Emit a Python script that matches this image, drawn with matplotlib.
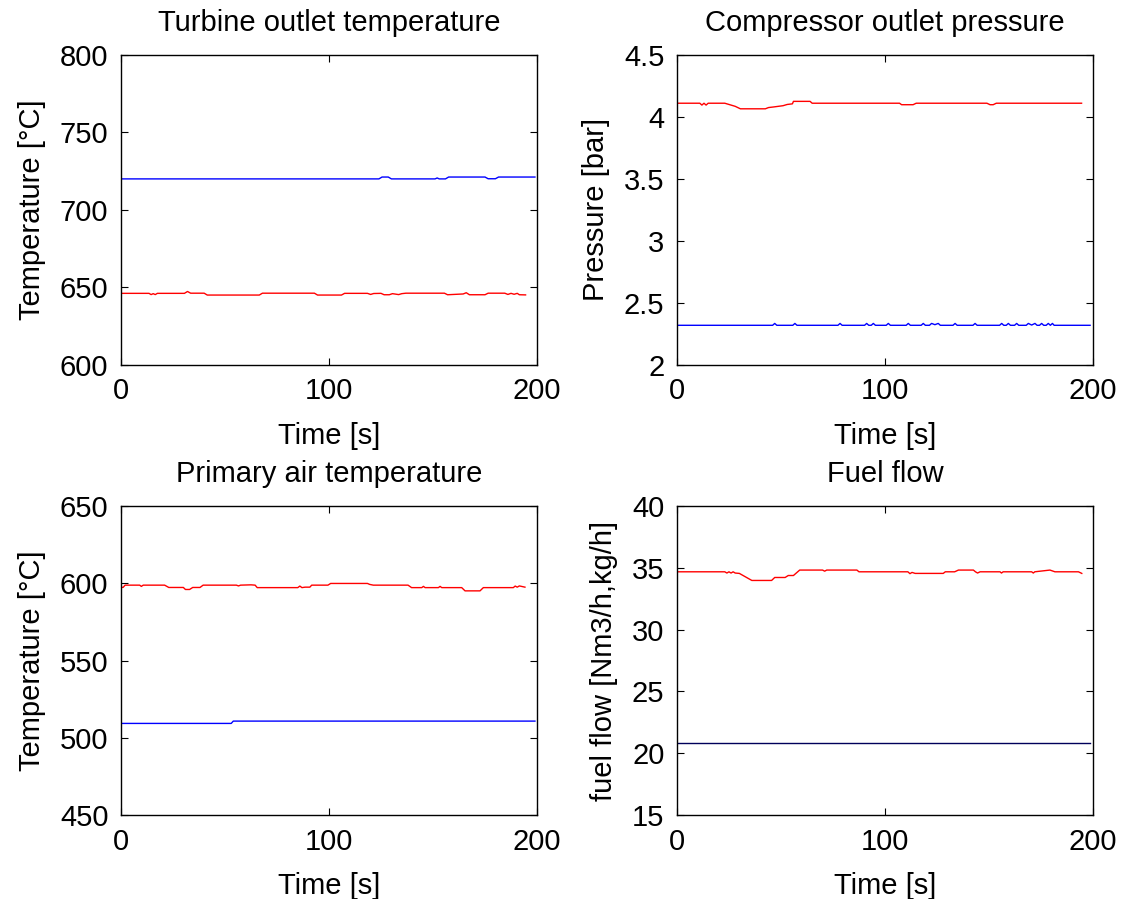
import numpy as np
import matplotlib
matplotlib.use("Agg")
import matplotlib.pyplot as plt

plt.rcParams['font.family'] = ['Liberation Sans', 'DejaVu Sans']

# turbine outlet temperature
tot_red_t = [0, 13.5, 14.5, 15.5, 16.5, 17.5, 30.5, 32, 33.5, 40, 41.5, 66.5, 68, 93, 94.5, 106, 107.5,
             118.5, 120, 121.5, 125, 126.5, 129, 130.5, 133.5, 135, 137, 155.5, 157, 164.5, 166, 167.5,
             175, 176.5, 184.5, 186, 187.5, 189, 190.5, 191.5, 194.5]
tot_red_v = [646.2, 646.2, 645.4, 646.0, 645.4, 646.2, 646.2, 647.4, 646.3, 646.3, 645.1, 645.1, 646.3,
             646.3, 645.1, 645.1, 646.2, 646.2, 645.5, 646.1, 646.2, 645.3, 645.3, 646.0, 645.4, 646.0,
             646.3, 646.3, 645.3, 645.8, 646.6, 645.3, 645.3, 646.3, 646.3, 645.5, 646.2, 645.6, 646.2,
             645.3, 645.2]
tot_blue_t = [0, 124, 125.5, 128.5, 130, 151, 152, 153, 156, 157.5, 175, 176.5, 180, 181.5, 199]
tot_blue_v = [720.0, 720.0, 721.2, 721.2, 720.0, 720.0, 720.6, 720.0, 720.0, 721.2, 721.2, 720.1,
              720.1, 721.2, 721.2]

# compressor outlet pressure
cop_red_t = [0, 11, 12, 13, 14, 15, 23, 25, 28, 30.5, 42.5, 44, 46.5, 51, 53, 55.5, 56, 64, 65,
             107, 108, 113.5, 115, 149, 150.5, 152, 153.5, 194.5]
cop_red_v = [4.11, 4.11, 4.095, 4.11, 4.095, 4.11, 4.11, 4.10, 4.085, 4.065, 4.065, 4.075, 4.08,
             4.09, 4.10, 4.105, 4.125, 4.125, 4.11, 4.11, 4.098, 4.098, 4.11, 4.11, 4.098, 4.098,
             4.11, 4.11]
cop_blue_t = [0, 46, 47, 48, 55.7, 56.7, 57.7, 77.4, 78.4, 79.4, 90.2, 91.2, 92.2, 93.4, 94.4, 95.4,
              100.6, 101.6, 102.6, 110.2, 111.2, 112.2, 117.4, 118.4, 119.4, 121.4, 122.4, 124,
              125.6, 126.6, 132.7, 133.7, 134.7, 142.3, 143.3, 144.3, 155.1, 156.1, 157.1, 158.3,
              159.3, 160.3, 162.3, 163.3, 164.3, 167.9, 168.9, 170.5, 172.1, 173.1, 174.3, 175.3,
              176.3, 177.5, 178.5, 179.5, 180.5, 181.3, 198.6]
cop_blue_v = [2.32, 2.32, 2.335, 2.32, 2.32, 2.335, 2.32, 2.32, 2.335, 2.32, 2.32, 2.335, 2.32,
              2.32, 2.335, 2.32, 2.32, 2.335, 2.32, 2.32, 2.335, 2.32, 2.32, 2.335, 2.32, 2.32,
              2.335, 2.325, 2.335, 2.32, 2.32, 2.335, 2.32, 2.32, 2.335, 2.32, 2.32, 2.335, 2.32,
              2.32, 2.335, 2.32, 2.32, 2.335, 2.32, 2.32, 2.335, 2.322, 2.335, 2.32, 2.32, 2.335,
              2.32, 2.32, 2.335, 2.32, 2.335, 2.32, 2.32]

# primary air temperature
pat_red_t = [0, 1, 2, 9, 9.8, 10.7, 21, 23, 30, 31, 33, 34.5, 38, 39.5, 55.5, 56.5, 57.5, 62.5,
             64.5, 65.5, 85, 86, 87, 88.5, 90.8, 91.7, 99.5, 100.8, 118.5, 119.5, 121.3, 138, 139.7,
             144.6, 145.4, 146.2, 152.6, 153.4, 154.2, 163.8, 165.4, 172.6, 174.2, 188.6, 189.5,
             190.5, 191.5, 194.2]
pat_red_v = [597.5, 597.3, 598.8, 598.8, 598.0, 598.8, 598.8, 597.3, 597.3, 596.0, 596.0, 597.3,
             597.3, 598.8, 598.8, 598.3, 598.8, 599.0, 598.8, 597.2, 597.2, 598.2, 597.2, 597.5,
             597.5, 598.8, 598.8, 599.9, 599.9, 599.3, 598.8, 598.8, 597.2, 597.2, 598.0, 597.2,
             597.2, 598.0, 597.2, 597.2, 595.1, 595.1, 597.2, 597.2, 598.2, 597.5, 598.3, 597.5]
pat_blue_t = [0, 53, 54, 199]
pat_blue_v = [509.3, 509.3, 510.8, 510.8]

# fuel flow
ff_red_t = [0, 23, 24, 25, 26, 27, 28, 30, 36, 45.5, 47, 52, 53.5, 56, 59, 70, 71, 72, 86.5, 87.5,
            111, 112, 113, 114.5, 128, 129, 133.5, 135.3, 142.5, 143.5, 144.5, 145.7, 155.3, 156,
            156.8, 170.5, 171.3, 172, 179.3, 181.7, 189.8, 193, 194.6]
ff_red_v = [34.68, 34.68, 34.58, 34.68, 34.58, 34.68, 34.58, 34.55, 33.98, 33.98, 34.22, 34.22,
            34.38, 34.38, 34.82, 34.82, 34.73, 34.82, 34.82, 34.68, 34.68, 34.53, 34.63, 34.55,
            34.55, 34.68, 34.68, 34.82, 34.82, 34.68, 34.58, 34.68, 34.68, 34.58, 34.68, 34.68,
            34.58, 34.68, 34.82, 34.68, 34.68, 34.68, 34.55]
ff_dark_t = [0, 198.6]
ff_dark_v = [20.8, 20.8]

fig = plt.figure(figsize=(11.23, 8.99), dpi=100)
fs = 21

def style(ax, title, ylabel, ylim, yticks, yticklabels):
    ax.set_xlim(0, 200)
    ax.set_ylim(*ylim)
    ax.set_xticks([0, 100, 200])
    ax.set_yticks(yticks)
    ax.set_yticklabels(yticklabels)
    ax.tick_params(direction='in', length=5, width=0.8, top=True, right=True,
                   labelsize=fs, pad=9)
    ax.set_title(title, fontsize=fs, pad=17)
    ax.set_xlabel('Time [s]', fontsize=fs, labelpad=12)
    ax.set_ylabel(ylabel, fontsize=fs, labelpad=10)
    for s in ax.spines.values():
        s.set_linewidth(1.0)

ax1 = fig.add_axes([0.1077, 0.594, 0.3705, 0.345])
ax1.plot(tot_blue_t, tot_blue_v, color='#0000ff', lw=1.0)
ax1.plot(tot_red_t, tot_red_v, color='#ff0000', lw=1.0)
style(ax1, 'Turbine outlet temperature', 'Temperature [\u00b0C]', (600, 800),
      [600, 650, 700, 750, 800], ['600', '650', '700', '750', '800'])

ax2 = fig.add_axes([0.6028, 0.594, 0.3705, 0.345])
ax2.plot(cop_blue_t, cop_blue_v, color='#0000ff', lw=1.0)
ax2.plot(cop_red_t, cop_red_v, color='#ff0000', lw=1.0)
style(ax2, 'Compressor outlet pressure', 'Pressure [bar]', (2, 4.5),
      [2, 2.5, 3, 3.5, 4, 4.5], ['2', '2.5', '3', '3.5', '4', '4.5'])

ax3 = fig.add_axes([0.1077, 0.0934, 0.3705, 0.3437])
ax3.plot(pat_blue_t, pat_blue_v, color='#0000ff', lw=1.0)
ax3.plot(pat_red_t, pat_red_v, color='#ff0000', lw=1.0)
style(ax3, 'Primary air temperature', 'Temperature [\u00b0C]', (450, 650),
      [450, 500, 550, 600, 650], ['450', '500', '550', '600', '650'])

ax4 = fig.add_axes([0.6028, 0.0934, 0.3705, 0.3437])
ax4.plot(ff_dark_t, ff_dark_v, color='#00005a', lw=1.0)
ax4.plot(ff_red_t, ff_red_v, color='#ff0000', lw=1.0)
style(ax4, 'Fuel flow', 'fuel flow [Nm3/h,kg/h]', (15, 40),
      [15, 20, 25, 30, 35, 40], ['15', '20', '25', '30', '35', '40'])

fig.savefig('out.png', dpi=100)
